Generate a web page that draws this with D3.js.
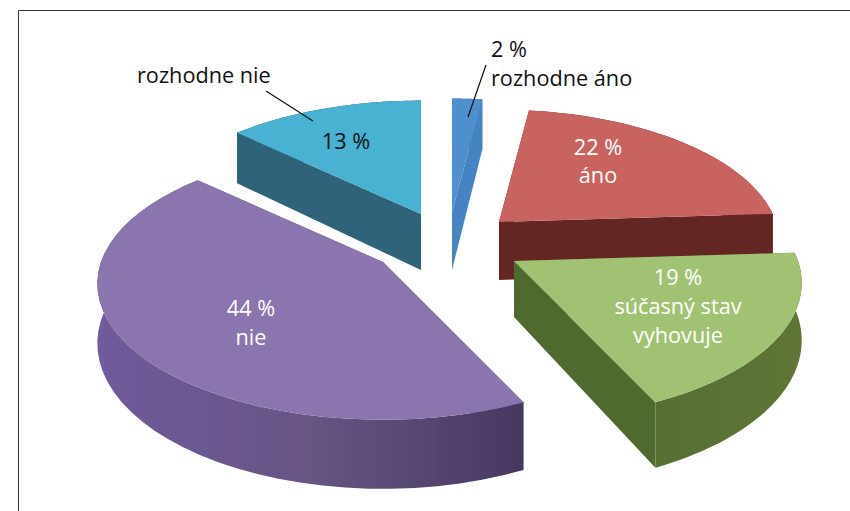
<!DOCTYPE html>
<html>
<head>
<meta charset="utf-8">
<script src="https://cdn.jsdelivr.net/npm/d3@7"></script>
<style>
  html,body{margin:0;padding:0;background:#fff;}
  svg{display:block;}
  text{font-family:"Open Sans",sans-serif;font-size:21.7px;}
</style>
</head>
<body>
<script>
// data
const categories = ["rozhodne áno","áno","súčasný stav vyhovuje","nie","rozhodne nie"];
const shares = [2,22,19,44,13];

// look of each slice, same order as categories
const topColors = ["#4f8fcc","#c9635f","#a1c272","#8b75ae","#48b1d1"];
const sideColors = ["#4583c2","#642524","#4f6a2e","#6b5895","#2f6479"];
const arcStops = [
  ["#4583c2","#4583c2"],
  ["#642524","#642524"],
  ["#566f33","#5f7536"],
  ["#6f5b9c","#675584","#463860"],
  ["#2f6479","#2f6479"]
];
// where each exploded slice has its tip, its radius and its thickness
const tipX = [452,499,514,383,421];
const tipY = [212,222,261,262,214];
const radius = [280,277,284,282,280];
const thickness = [58,58,56,58,56];

// labels: [slice text lines, x, first baseline, anchor, colour]
const labelTexts = [
  {lines:["2 %","rozhodne áno"],x:491,y:57,anchor:"start",fill:"#111",step:29},
  {lines:["22 %","áno"],x:598,y:155,anchor:"middle",fill:"#fff",step:28},
  {lines:["19 %","súčasný stav","vyhovuje"],x:678,y:285,anchor:"middle",fill:"#fff",step:29},
  {lines:["44 %","nie"],x:251,y:316,anchor:"middle",fill:"#fff",step:29},
  {lines:["13 %"],x:346,y:149,anchor:"middle",fill:"#111",step:28},
  {lines:["rozhodne nie"],x:137,y:83,anchor:"start",fill:"#111",step:28}
];
const leaders = [
  [[486,65],[468,117]],
  [[266,91],[313,121]]
];

const width = 850, height = 511;
const squash = 0.47, persp = 0.16;
const drawOrder = [0,4,1,3,2];

const svg = d3.select("body").append("svg")
  .attr("width",width).attr("height",height);

//frame: only top and left lines are in the picture
svg.append("path")
  .attr("d",d3.line()([[18.5,height],[18.5,10.5],[width,10.5]]))
  .attr("fill","none").attr("stroke","#333").attr("stroke-width",1);

const defs = svg.append("defs");
defs.append("filter").attr("id","soft")
  .append("feGaussianBlur").attr("stdDeviation",0.5);

arcStops.forEach((stops,i)=>{
  const g = defs.append("linearGradient").attr("id","arc"+i);
  stops.forEach((c,j)=>g.append("stop")
    .attr("offset",j/(stops.length-1)).attr("stop-color",c));
});

const pie = d3.pie().sort(null).value(d=>d);
const arcs = pie(shares);
const line = d3.line();

//perspective: the back of the pie is smaller than the front
const scaleAt = a => 1/(1+persp*Math.cos(a));

function project(i,a,r){
  const s = scaleAt(a);
  return [tipX[i]+r*Math.sin(a)*s, tipY[i]-r*squash*Math.cos(a)*s];
}
function drop(i,p,a){
  return [p[0],p[1]+thickness[i]*scaleAt(a)];
}

const pies = svg.append("g").attr("filter","url(#soft)");

drawOrder.forEach(i=>{
  const d = arcs[i];
  const r = radius[i];
  const angles = d3.range(0,41).map(t=>d.startAngle+(d.endAngle-d.startAngle)*t/40);
  const rim = angles.map(a=>project(i,a,r));
  const rimLow = angles.map((a,j)=>drop(i,rim[j],a));
  const tip = project(i,0,0);
  const tipLow = [tip[0],tip[1]+thickness[i]];
  const g = pies.append("g").attr("class","slice");

  //side walls first, the top face covers whatever faces away
  [0,rim.length-1].forEach(j=>{
    g.append("path")
      .attr("d",line([tip,rim[j],rimLow[j],tipLow])+"Z")
      .attr("fill",sideColors[i]);
  });
  g.append("path")
    .attr("d",line(rim.concat(rimLow.slice().reverse()))+"Z")
    .attr("fill","url(#arc"+i+")");
  g.append("path")
    .attr("d",line([tip].concat(rim))+"Z")
    .attr("fill",topColors[i]);
});

//leader lines
svg.append("g").selectAll("path").data(leaders).join("path")
  .attr("d",d=>line(d))
  .attr("stroke","#111").attr("stroke-width",1.2).attr("fill","none");

//labels
const label = svg.append("g").selectAll("text").data(labelTexts).join("text")
  .attr("text-anchor",d=>d.anchor)
  .attr("fill",d=>d.fill);
label.selectAll("tspan").data(d=>d.lines.map((t,j)=>({t:t,x:d.x,y:d.y+j*d.step}))).join("tspan")
  .attr("x",d=>d.x).attr("y",d=>d.y).text(d=>d.t);
</script>
</body>
</html>
